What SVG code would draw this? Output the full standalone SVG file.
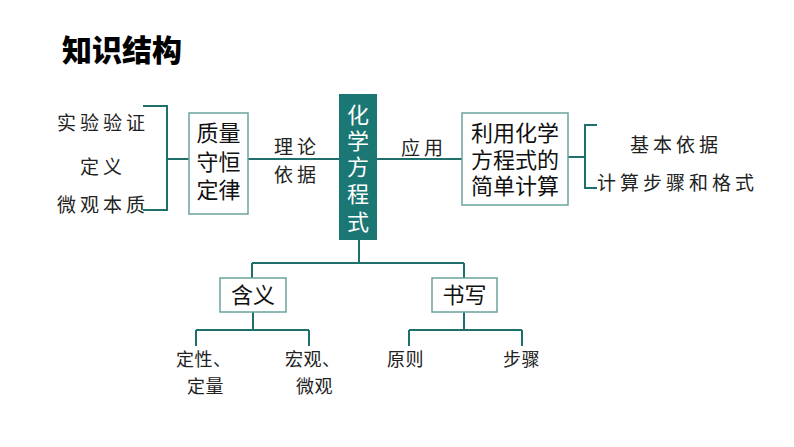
<svg xmlns="http://www.w3.org/2000/svg" width="794" height="447" viewBox="0 0 794 447">
<style>
.ln{stroke:#1f6f6c;stroke-width:2;fill:none}
.bx{fill:#fff;stroke:#6aa29c;stroke-width:1.5}
.bt{font-family:"Liberation Sans","Noto Sans CJK SC",sans-serif;font-size:22px;fill:#111;text-anchor:middle;dominant-baseline:central}
.lb{font-family:"Liberation Sans","Noto Sans CJK SC",sans-serif;font-size:19px;fill:#222;letter-spacing:4px;dominant-baseline:central}
.lf{font-family:"Liberation Sans","Noto Sans CJK SC",sans-serif;font-size:18px;fill:#222;letter-spacing:0.5px;dominant-baseline:central}
.ct{font-family:"Liberation Sans","Noto Sans CJK SC",sans-serif;font-size:22px;fill:#fff;text-anchor:middle;dominant-baseline:central}
</style>
<rect width="794" height="447" fill="#fff"/>
<text x="62" y="48" font-family="'Noto Sans CJK SC',sans-serif" font-size="30" font-weight="900" fill="#000" dominant-baseline="central">知识结构</text>
<g id="connectors">
<path class="ln" d="M143,106 H167 V210 H143 M167,159 H190"/>
<path class="ln" d="M248,159 H339"/>
<path class="ln" d="M377,159 H462"/>
<path class="ln" d="M568,157 H585 M597,125 H585 V188 H597"/>
<path class="ln" d="M359,240 V263 M252,263 H464 M252,263 V278 M464,263 V278"/>
<path class="ln" d="M253,312 V330 M196,330 H309 M196,330 V346 M309,330 V346"/>
<path class="ln" d="M464,312 V330 M409,330 H522 M409,330 V346 M522,330 V346"/>
</g>
<g id="left-labels">
<text class="lb" x="57" y="123">实验验证</text>
<text class="lb" x="80" y="167">定义</text>
<text class="lb" x="57" y="205">微观本质</text>
</g>
<g id="zhiliang">
<rect class="bx" x="189" y="113" width="59" height="101"/>
<text class="bt" x="218.5" y="133">质量<tspan x="218.5" dy="29">守恒</tspan><tspan x="218.5" dy="28">定律</tspan></text>
</g>
<g id="lilun">
<text class="lb" x="274" y="147">理论<tspan x="274" dy="28">依据</tspan></text>
</g>
<g id="center">
<rect x="339" y="94" width="38" height="146" fill="#1b7774"/>
<text class="ct" x="358" y="115">化<tspan x="358" dy="26">学</tspan><tspan x="358" dy="26">方</tspan><tspan x="358" dy="27">程</tspan><tspan x="358" dy="28">式</tspan></text>
</g>
<g id="yingyong">
<text class="lb" x="401" y="148">应用</text>
</g>
<g id="jisuan">
<rect class="bx" x="462" y="113" width="106" height="92"/>
<text class="bt" x="515" y="133">利用化学<tspan x="515" dy="27">方程式的</tspan><tspan x="515" dy="26">简单计算</tspan></text>
</g>
<g id="right-labels">
<text class="lb" x="630" y="145">基本依据</text>
<text class="lb" x="597" y="183">计算步骤和格式</text>
</g>
<g id="hanyi">
<rect class="bx" x="220" y="278" width="66" height="34"/>
<text class="bt" x="253" y="295" font-size="23">含义</text>
</g>
<g id="shuxie">
<rect class="bx" x="432" y="278" width="65" height="34"/>
<text class="bt" x="464.5" y="295" font-size="23">书写</text>
</g>
<g id="leaves">
<text class="lf" x="176" y="360">定性、<tspan x="187" dy="27">定量</tspan></text>
<text class="lf" x="285" y="360">宏观、<tspan x="296" dy="27">微观</tspan></text>
<text class="lf" x="387" y="360">原则</text>
<text class="lf" x="503" y="360">步骤</text>
</g>
</svg>
